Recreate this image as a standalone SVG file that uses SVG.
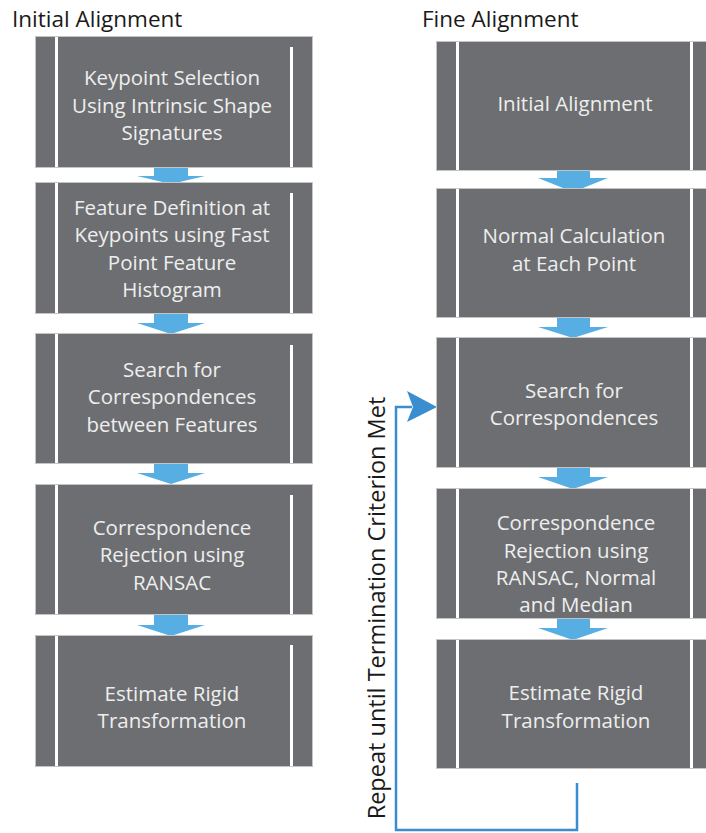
<svg xmlns="http://www.w3.org/2000/svg" width="706" height="833" viewBox="0 0 706 833">
<defs>
<style>
.box{fill:#6D6E71;stroke:#C4C4C4;stroke-width:1}
.div{fill:#FFFFFF}
.t{font-family:"Open Sans","Noto Sans",sans-serif;font-size:20.5px;fill:#EEEEEE;text-anchor:middle}
.title{font-family:"Open Sans","Noto Sans",sans-serif;font-size:22.5px;fill:#1A1A1A}
.arr{fill:#56AEE3}
.loop{fill:none;stroke:#3A8ECF;stroke-width:2.5}
</style>
</defs>
<rect width="706" height="833" fill="#FFFFFF"/>
<text class="title" x="12" y="27">Initial Alignment</text>
<text class="title" x="422" y="27">Fine Alignment</text>

<g id="connectors">
<path class="arr" d="M154,167 H188 V176 H205 L171,184 L137,176 H154 Z"/>
<path class="arr" d="M154,313 H188 V323 H205 L171,334 L137,323 H154 Z"/>
<path class="arr" d="M154,463 H188 V473 H205 L171,484 L137,473 H154 Z"/>
<path class="arr" d="M154,614 H188 V625 H205 L171,636 L137,625 H154 Z"/>
<path class="arr" d="M557,170 H590 V178 H608 L573,192 L538,178 H557 Z"/>
<path class="arr" d="M557,317 H590 V327 H608 L573,338 L538,327 H557 Z"/>
<path class="arr" d="M557,467 H590 V477 H608 L573,489 L538,477 H557 Z"/>
<path class="arr" d="M557,618 H590 V628 H608 L573,640 L538,628 H557 Z"/>
<path class="loop" d="M577,783 V830 H396 V407 H412"/>
<path fill="#3A8ECF" d="M437,407 L407,391 L413,407 L407,422 Z"/>
<text font-family="'Open Sans','Noto Sans',sans-serif" font-size="23.5" fill="#1A1A1A" text-anchor="middle" transform="translate(385,608) rotate(-90)">Repeat until Termination Criterion Met</text>
</g>

<g id="L1">
<rect class="box" x="35.5" y="36.5" width="277" height="131"/>
<rect class="div" x="55" y="37" width="3" height="130"/>
<rect class="div" x="290" y="47" width="3" height="120"/>
<text class="t" x="172" y="85">Keypoint Selection</text>
<text class="t" x="172" y="113">Using Intrinsic Shape</text>
<text class="t" x="172" y="140">Signatures</text>
</g>
<g id="L2">
<rect class="box" x="35.5" y="182.5" width="277" height="131"/>
<rect class="div" x="55" y="183" width="3" height="130"/>
<rect class="div" x="290" y="193" width="3" height="120"/>
<text class="t" x="172" y="215">Feature Definition at</text>
<text class="t" x="172" y="242">Keypoints using Fast</text>
<text class="t" x="172" y="270">Point Feature</text>
<text class="t" x="172" y="297">Histogram</text>
</g>
<g id="L3">
<rect class="box" x="35.5" y="333.5" width="277" height="130"/>
<rect class="div" x="55" y="334" width="3" height="129"/>
<rect class="div" x="290" y="345" width="3" height="118"/>
<text class="t" x="172" y="377">Search for</text>
<text class="t" x="172" y="404">Correspondences</text>
<text class="t" x="172" y="432">between Features</text>
</g>
<g id="L4">
<rect class="box" x="35.5" y="484.5" width="277" height="130"/>
<rect class="div" x="55" y="485" width="3" height="129"/>
<rect class="div" x="290" y="495" width="3" height="119"/>
<text class="t" x="172" y="535">Correspondence</text>
<text class="t" x="172" y="562">Rejection using</text>
<text class="t" x="172" y="590">RANSAC</text>
</g>
<g id="L5">
<rect class="box" x="35.5" y="635.5" width="277" height="131"/>
<rect class="div" x="55" y="636" width="3" height="130"/>
<rect class="div" x="290" y="645" width="3" height="121"/>
<text class="t" x="172" y="701">Estimate Rigid</text>
<text class="t" x="172" y="728">Transformation</text>
</g>

<g id="R1">
<rect class="box" x="436.5" y="41.5" width="280" height="129"/>
<rect class="div" x="456" y="42" width="3" height="128"/>
<rect class="div" x="690" y="42" width="3" height="128"/>
<text class="t" x="575" y="111">Initial Alignment</text>
</g>
<g id="R2">
<rect class="box" x="436.5" y="188.5" width="280" height="129"/>
<rect class="div" x="456" y="189" width="3" height="128"/>
<rect class="div" x="690" y="189" width="3" height="128"/>
<text class="t" x="574" y="243">Normal Calculation</text>
<text class="t" x="574" y="271">at Each Point</text>
</g>
<g id="R3">
<rect class="box" x="436.5" y="337.5" width="280" height="130"/>
<rect class="div" x="456" y="338" width="3" height="129"/>
<rect class="div" x="690" y="338" width="3" height="129"/>
<text class="t" x="574" y="398">Search for</text>
<text class="t" x="574" y="425">Correspondences</text>
</g>
<g id="R4">
<rect class="box" x="436.5" y="488.5" width="280" height="130"/>
<rect class="div" x="456" y="489" width="3" height="129"/>
<rect class="div" x="690" y="489" width="3" height="129"/>
<text class="t" x="576" y="530">Correspondence</text>
<text class="t" x="576" y="558">Rejection using</text>
<text class="t" x="576" y="585">RANSAC, Normal</text>
<text class="t" x="576" y="612">and Median</text>
</g>
<g id="R5">
<rect class="box" x="436.5" y="639.5" width="280" height="129"/>
<rect class="div" x="456" y="640" width="3" height="128"/>
<rect class="div" x="690" y="640" width="3" height="128"/>
<text class="t" x="576" y="700">Estimate Rigid</text>
<text class="t" x="576" y="728">Transformation</text>
</g>
</svg>
